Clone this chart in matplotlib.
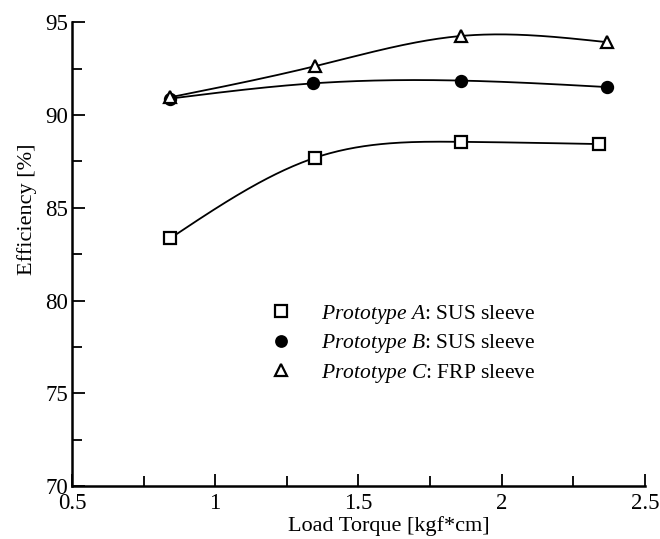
import numpy as np
import matplotlib
matplotlib.use('Agg')
import matplotlib.pyplot as plt
from matplotlib.ticker import MultipleLocator

plt.rcParams['font.family'] = 'Liberation Serif'
plt.rcParams['mathtext.fontset'] = 'custom'
plt.rcParams['mathtext.rm'] = 'Liberation Serif'
plt.rcParams['mathtext.it'] = 'Liberation Serif:italic'

# Load torque [kgf*cm] for each prototype
torque_a = [0.843, 1.35, 1.86, 2.34]
torque_b = [0.843, 1.343, 1.857, 2.368]
torque_c = [0.843, 1.35, 1.857, 2.367]

# Efficiency [%]
eff_a = [83.35, 87.7, 88.55, 88.43]
eff_b = [90.88, 91.7, 91.85, 91.5]
eff_c = [90.95, 92.63, 94.25, 93.92]

labels = [r'$\mathit{Prototype\ A}$: SUS sleeve',
          r'$\mathit{Prototype\ B}$: SUS sleeve',
          r'$\mathit{Prototype\ C}$: FRP sleeve']


# natural cubic spline, only used to draw the smooth connecting line
def smooth(x, y, n=200):
    x = np.asarray(x, float)
    y = np.asarray(y, float)
    k = len(x)
    h = np.diff(x)
    A = np.zeros((k, k))
    r = np.zeros(k)
    A[0, 0] = A[-1, -1] = 1
    for i in range(1, k - 1):
        A[i, i - 1] = h[i - 1]
        A[i, i] = 2 * (h[i - 1] + h[i])
        A[i, i + 1] = h[i]
        r[i] = 6 * ((y[i + 1] - y[i]) / h[i] - (y[i] - y[i - 1]) / h[i - 1])
    m = np.linalg.solve(A, r)
    xs = np.linspace(x[0], x[-1], n)
    idx = np.clip(np.searchsorted(x, xs) - 1, 0, k - 2)
    x0, x1 = x[idx], x[idx + 1]
    hh = x1 - x0
    t0 = x1 - xs
    t1 = xs - x0
    ys = (m[idx] * t0**3 + m[idx + 1] * t1**3) / (6 * hh) \
        + (y[idx] / hh - m[idx] * hh / 6) * t0 \
        + (y[idx + 1] / hh - m[idx + 1] * hh / 6) * t1
    return xs, ys


fig = plt.figure(figsize=(6.6, 5.39), dpi=100)
ax = fig.add_axes([0.109, 0.098, 0.868, 0.861])

series = [(torque_a, eff_a, 's', 'white', 8.5),
          (torque_b, eff_b, 'o', 'black', 8),
          (torque_c, eff_c, '^', 'white', 8.5)]

for (x, y, mk, fc, ms), lab in zip(series, labels):
    xs, ys = smooth(x, y)
    ax.plot(xs, ys, color='black', lw=1.3, zorder=2)
    ax.plot(x, y, linestyle='none', marker=mk, markersize=ms,
            markerfacecolor=fc, markeredgecolor='black', markeredgewidth=1.6,
            label=lab, zorder=3)

ax.set_xlim(0.5, 2.5)
ax.set_ylim(70, 95)
ax.set_xticks([0.5, 1, 1.5, 2, 2.5])
ax.set_xticklabels(['0.5', '1', '1.5', '2', '2.5'])
ax.xaxis.set_minor_locator(MultipleLocator(0.25))
ax.yaxis.set_major_locator(MultipleLocator(5))
ax.yaxis.set_minor_locator(MultipleLocator(2.5))
ax.tick_params(which='both', direction='in', width=1.3, labelsize=16.5)
ax.tick_params(axis='x', pad=5)
ax.tick_params(axis='y', pad=3)
ax.tick_params(which='major', length=9)
ax.tick_params(which='minor', length=7)
ax.spines['top'].set_visible(False)
ax.spines['right'].set_visible(False)
ax.spines['left'].set_linewidth(1.8)
ax.spines['bottom'].set_linewidth(1.8)

ax.set_xlabel('Load Torque [kgf*cm]', fontsize=16, labelpad=1)
ax.xaxis.set_label_coords(0.553, -0.064)
ax.set_ylabel('Efficiency [%]', fontsize=16)
ax.yaxis.set_label_coords(-0.061, 0.597)

ax.legend(loc='upper left', bbox_to_anchor=(0.293, 0.437), frameon=False,
          fontsize=15.5, handletextpad=0.85, labelspacing=0.3, markerscale=0.95)

fig.savefig('out.png', dpi=100)
